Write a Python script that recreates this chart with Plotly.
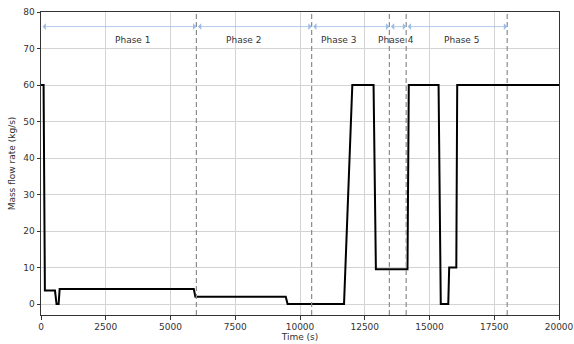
import plotly.graph_objects as go

# Mass flow rate time series (step profile)
time_s = [0, 100, 150, 540, 600, 680, 720, 5900, 5960, 9450, 9520, 11700, 12020,
          12840, 12930, 14150, 14200, 15350, 15435, 15725, 15760, 16035, 16070, 20000]
flow_kgs = [60, 60, 3.7, 3.7, 0, 0, 4.1, 4.1, 2.0, 2.0, 0, 0, 60,
            60, 9.5, 9.5, 60, 60, 0, 0, 10, 10, 60, 60]

# Phase boundaries and labels
phase_bounds = [0, 6000, 10450, 13450, 14100, 18000]
phase_names = ["Phase 1", "Phase 2", "Phase 3", "Phase 4", "Phase 5"]
phase_label_x = [3550, 7830, 11490, 13690, 16225]
arrow_y = 76
label_y = 72.4

x_ticks = [0, 2500, 5000, 7500, 10000, 12500, 15000, 17500, 20000]
y_ticks = [0, 10, 20, 30, 40, 50, 60, 70, 80]

FONT = "DejaVu Sans"
fig = go.Figure()
fig.add_trace(go.Scatter(x=time_s, y=flow_kgs, mode="lines",
                         line=dict(color="black", width=2), showlegend=False,
                         hoverinfo="skip"))

# dashed boundary lines (excluding 0)
for b in phase_bounds[1:]:
    fig.add_shape(type="line", xref="x", yref="paper", x0=b, x1=b, y0=0, y1=1,
                  line=dict(color="#8c8c8c", width=1.2, dash="5px,3px"), layer="above")

# double arrows + labels
for i, name in enumerate(phase_names):
    x0, x1 = phase_bounds[i], phase_bounds[i + 1]
    fig.add_annotation(x=x1, y=arrow_y, ax=x0, ay=arrow_y, xref="x", yref="y",
                       axref="x", ayref="y", showarrow=True, arrowhead=1,
                       startarrowhead=1, arrowside="end+start", arrowwidth=0.8,
                       arrowsize=1.4, startarrowsize=1.4,
                       arrowcolor="#9dbbe6", text="")
    fig.add_annotation(x=phase_label_x[i], y=label_y, xref="x", yref="y",
                       text=name, showarrow=False,
                       font=dict(family=FONT, size=9, color="#333"))

axis_common = dict(showgrid=True, gridcolor="#d3d3d3", gridwidth=1,
                   showline=True, linecolor="#333", linewidth=1, mirror=True,
                   ticks="outside", ticklen=3.5, tickcolor="#333",
                   tickfont=dict(family=FONT, size=9, color="#333"),
                   zeroline=False, automargin=False, ticklabeloverflow="allow")

fig.update_xaxes(range=[0, 20000], tickvals=x_ticks,
                 ticktext=[str(v) for v in x_ticks],
                 title=dict(text="Time (s)", font=dict(family=FONT, size=9, color="#333"),
                            standoff=0), **axis_common)
fig.update_yaxes(range=[-3, 80], tickvals=y_ticks,
                 title=dict(text="Mass flow rate (kg/s)",
                            font=dict(family=FONT, size=9, color="#333"), standoff=6),
                 **axis_common)

fig.update_layout(width=574, height=344, margin=dict(l=41, r=15, t=12, b=29),
                  paper_bgcolor="white", plot_bgcolor="white",
                  font=dict(family=FONT, color="#333"))

fig.write_html("out.html", config={"displayModeBar": False},
               post_script="document.body.style.margin='0';")
